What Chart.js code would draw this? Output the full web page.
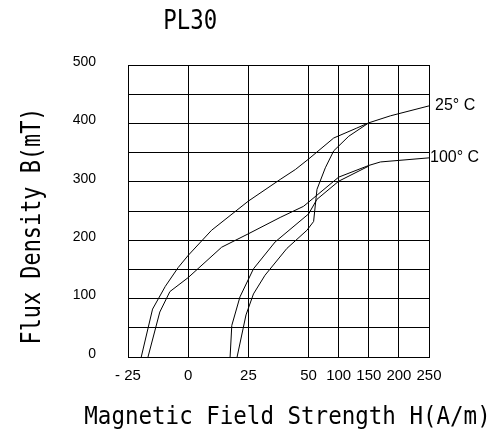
<!DOCTYPE html>
<html>
<head>
<meta charset="utf-8">
<title>PL30</title>
<script src="https://cdn.jsdelivr.net/npm/chart.js@4/dist/chart.umd.min.js"></script>
<style>
  html, body { margin: 0; padding: 0; background: #fff; }
  canvas { display: block; }
</style>
</head>
<body>
<canvas id="bhChart" width="491" height="432"></canvas>
<script>
// H axis ticks (A/m) – spacing is not linear, so each tick gets a slot
var hTicks = [-25, 0, 25, 50, 100, 150, 200, 250];
var hTickLabels = ["- 25", "0", "25", "50", "100", "150", "200", "250"];
var hTickSlots = [0, 2, 4, 6, 7, 8, 9, 10];

// B axis (mT)
var bTicks = [0, 100, 200, 300, 400, 500];

// 25 °C loop
var h25Up = [-19.5, -14.8, -9.5, -4.2, 0, 9.7, 25, 38.2, 44.5, 50, 91.7, 130, 150, 186, 250];
var b25Up = [0, 82, 121, 153, 174, 217, 267, 304, 321, 339, 375, 392, 401, 413, 430];
var h25Down = [20.3, 24, 27.1, 31.9, 41, 49.3, 58.3, 63.9, 77.8, 91.7, 116.7, 150];
var b25Down = [0, 72, 108, 140, 186, 217, 232, 287, 324, 353, 378, 401];

// 100 °C loop
var h100Up = [-16.7, -11.8, -7.6, 0, 13.9, 25, 38.2, 47.9, 100, 150, 169.4, 250];
var b100Up = [0, 77, 112, 136, 188, 211, 239, 258, 308, 328, 334, 341];
var h100Down = [17.4, 18.1, 21.5, 27.1, 36.1, 50, 63.9, 100, 150];
var b100Down = [0, 54, 103, 151, 197, 245, 270, 301, 327];

var chartTitle = "PL30";
var xTitle = "Magnetic Field Strength H(A/m)";
var yTitle = "Flux Density B(mT)";

var mono = '"DejaVu Sans Mono", "Liberation Mono", monospace';
var plain = '"Liberation Sans", Arial, sans-serif';

// piecewise-linear map from H to its slot on the x scale
function toSlot(h) {
    for (var i = 1; i < hTicks.length; i++) {
        if (h <= hTicks[i]) {
            var t = (h - hTicks[i - 1]) / (hTicks[i] - hTicks[i - 1]);
            return hTickSlots[i - 1] + t * (hTickSlots[i] - hTickSlots[i - 1]);
        }
    }
    return hTickSlots[hTickSlots.length - 1];
}

function points(hs, bs) {
    return hs.map(function (h, i) { return { x: toSlot(h), y: bs[i] }; });
}

function curve(hs, bs, tag, gap) {
    return {
        data: points(hs, bs),
        borderColor: "#000",
        borderWidth: 1,
        pointRadius: 0,
        tension: 0,
        fill: false,
        tag: tag,
        tagGap: gap
    };
}

// squeezed monospace text, centred on (x, y) baseline
function squeezed(ctx, text, x, y, size, squeeze, angle) {
    ctx.save();
    ctx.translate(x, y);
    if (angle) ctx.rotate(angle);
    ctx.scale(squeeze, 1);
    ctx.font = size + "px " + mono;
    ctx.textAlign = "center";
    ctx.textBaseline = "alphabetic";
    ctx.fillText(text, 0, 0);
    ctx.restore();
}

// title, axis titles and the temperature tags at the line ends
var captions = {
    id: "captions",
    afterDraw: function (chart) {
        var ctx = chart.ctx, area = chart.chartArea, xs = chart.scales.x;
        var midX = (area.left + area.right) / 2, midY = (area.top + area.bottom) / 2;
        ctx.save();
        ctx.fillStyle = "#000";

        squeezed(ctx, chartTitle, xs.getPixelForValue(toSlot(0)) + 2, 29, 26, 0.86);
        squeezed(ctx, xTitle, midX + 9, area.bottom + 66.5, 25, 0.9);
        squeezed(ctx, yTitle, 40, midY + 15, 27, 0.81, -Math.PI / 2);

        ctx.font = "16px " + plain;
        ctx.textAlign = "left";
        ctx.textBaseline = "middle";
        chart.data.datasets.forEach(function (ds, i) {
            if (!ds.tag) return;
            var pts = chart.getDatasetMeta(i).data;
            var last = pts[pts.length - 1];
            ctx.fillText(ds.tag, last.x + ds.tagGap, last.y);
        });
        ctx.restore();
    }
};

new Chart(document.getElementById("bhChart"), {
    type: "line",
    data: {
        datasets: [
            curve(h25Up, b25Up, "25° C", 6),
            curve(h25Down, b25Down),
            curve(h100Up, b100Up, "100° C", 1),
            curve(h100Down, b100Down)
        ]
    },
    options: {
        responsive: false,
        animation: false,
        layout: { padding: { top: 65, right: 62, left: 0, bottom: 0 } },
        plugins: {
            legend: { display: false },
            tooltip: { enabled: false },
            title: { display: false }
        },
        scales: {
            x: {
                type: "linear",
                min: hTickSlots[0],
                max: hTickSlots[hTickSlots.length - 1],
                afterBuildTicks: function (s) {
                    s.ticks = hTickSlots.map(function (v) { return { value: v }; });
                },
                afterFit: function (s) { s.height = 75; },
                grid: { color: "#000", lineWidth: 1, drawTicks: false },
                border: { color: "#000", width: 1 },
                ticks: {
                    color: "#000",
                    font: { family: plain, size: 15 },
                    padding: 10,
                    maxRotation: 0,
                    autoSkip: false,
                    callback: function (v) {
                        return hTickLabels[hTickSlots.indexOf(v)];
                    }
                }
            },
            y: {
                type: "linear",
                min: 0,
                max: 500,
                afterFit: function (s) { s.width = 128; },
                grid: { color: "#000", lineWidth: 1, drawTicks: false },
                border: { color: "#000", width: 1 },
                ticks: {
                    color: "#000",
                    stepSize: 50,
                    font: { family: plain, size: 14 },
                    padding: 32,
                    labelOffset: -3,
                    autoSkip: false,
                    callback: function (v) {
                        return bTicks.indexOf(v) >= 0 ? String(v) : "";
                    }
                }
            }
        }
    },
    plugins: [captions]
});
</script>
</body>
</html>
